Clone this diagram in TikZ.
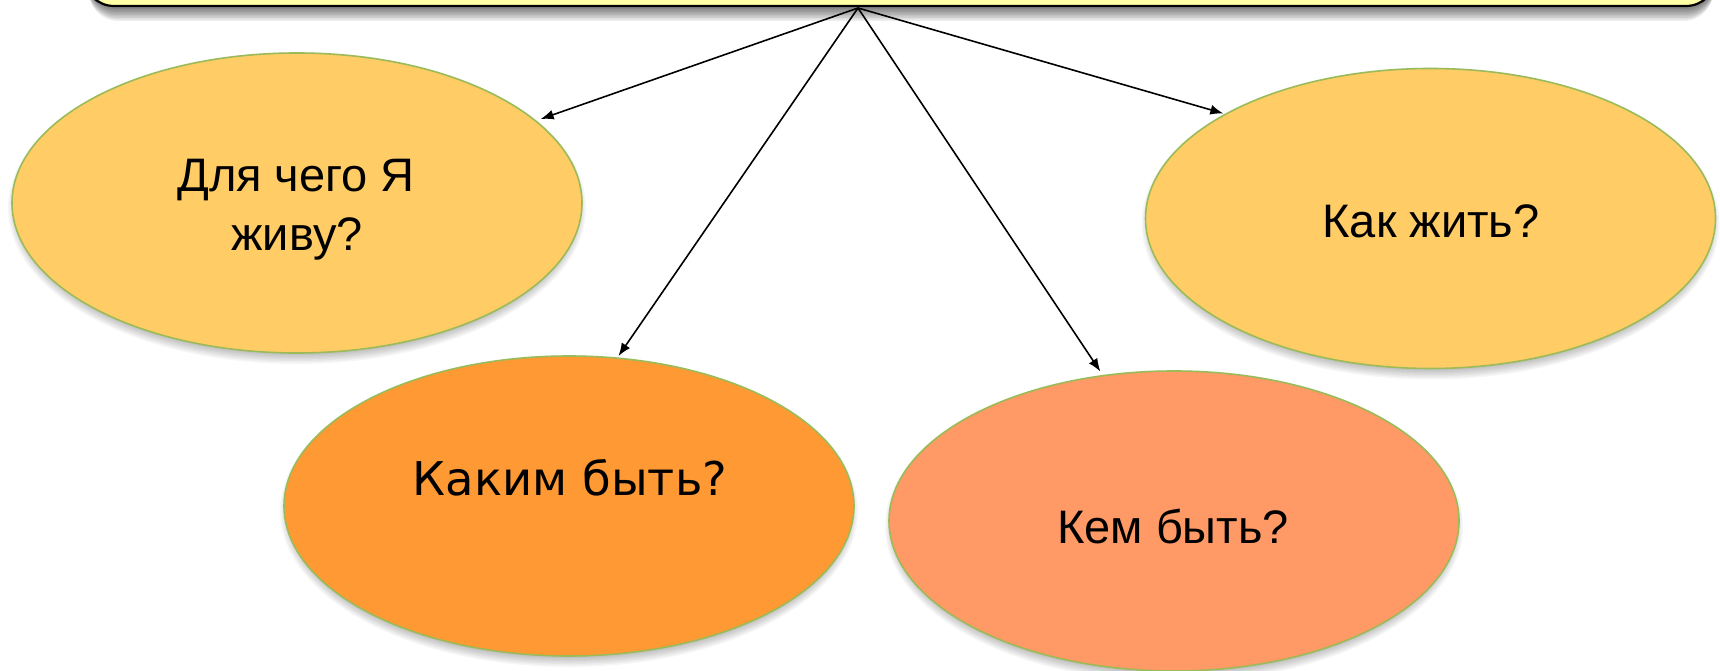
\documentclass[tikz,border=0pt]{standalone}
\usepackage{fontspec}
\setmainfont{Liberation Sans}
\newfontfamily\verdanalike{DejaVu Sans}
\usetikzlibrary{arrows.meta,shapes.geometric}
\definecolor{boxfill}{HTML}{FFFFA6}
\definecolor{lightorange}{HTML}{FFCC66}
\definecolor{strongorange}{HTML}{FF9933}
\definecolor{salmon}{HTML}{FF9966}
\definecolor{rimgreen}{HTML}{9BBB59}
\tikzset{
  oval/.style={ellipse,draw=rimgreen,line width=1.6pt,minimum width=570pt,minimum height=300pt,inner sep=0pt,outer sep=0pt},
  caption/.style={anchor=base,inner sep=0pt,font=\fontsize{47}{47}\selectfont},
  arr/.style={draw=black,line width=1.6pt,-{Latex[length=13pt,width=10pt]}},
}
\newcommand{\softshadow}[4]{% cx cy rx ry
  \foreach \r in {6,4.5,...,-7.5}{
    \fill[black,opacity=0.035] (#1,#2+5) ellipse [x radius=#3+\r-2, y radius=#4+\r];
  }
}
\begin{document}
\begin{tikzpicture}[x=1pt,y=-1pt]
\useasboundingbox (0,0) rectangle (1720,671);
\clip (0,0) rectangle (1720,671);
\fill[white] (0,0) rectangle (1720,671);
% banner shadow
\foreach \r in {13,11.5,...,0}{
  \fill[black,opacity=0.065,rounded corners=30pt] (86+\r*0.2,-60) rectangle (1716-\r*0.2,8+\r);
}
\node[draw=black,line width=2.2pt,fill=boxfill,rounded corners=30pt,minimum width=1632pt,minimum height=66pt,inner sep=0pt,outer sep=0pt] (banner) at (900,-27) {};
\coordinate (src) at (858,8);
% shadows
\softshadow{297}{203}{285}{150}
\softshadow{1430.5}{218.5}{285}{150}
\softshadow{569}{506}{285}{150}
\softshadow{1174}{521}{285}{150}
% ovals
\node[oval,fill=lightorange] (why) at (297,203) {};
\node[oval,fill=lightorange] (how) at (1430.5,218.5) {};
\node[oval,fill=strongorange] (what) at (569,506) {};
\node[oval,fill=salmon] (who) at (1174,521) {};
% captions
\node[caption] (whyA) at (296,192) {Для чего Я};
\node[caption] (whyB) at (297,250) {живу?};
\node[caption] (howT) at (1431,237) {Как жить?};
\node[caption] (whoT) at (1173,543) {Кем быть?};
\node[caption,font=\verdanalike\fontsize{46.5}{47}\selectfont] (whatT) at (570,495) {Каким быть?};
% connectors
\draw[arr,shorten >=5.5pt] (src) -- (why.19.84);
\draw[arr,shorten >=2.5pt] (src) -- (what.72.2);
\draw[arr,shorten >=5pt] (src) -- (who.116.4);
\draw[arr,shorten >=2.5pt] (src) -- (how.153.8);
\end{tikzpicture}
\end{document}
